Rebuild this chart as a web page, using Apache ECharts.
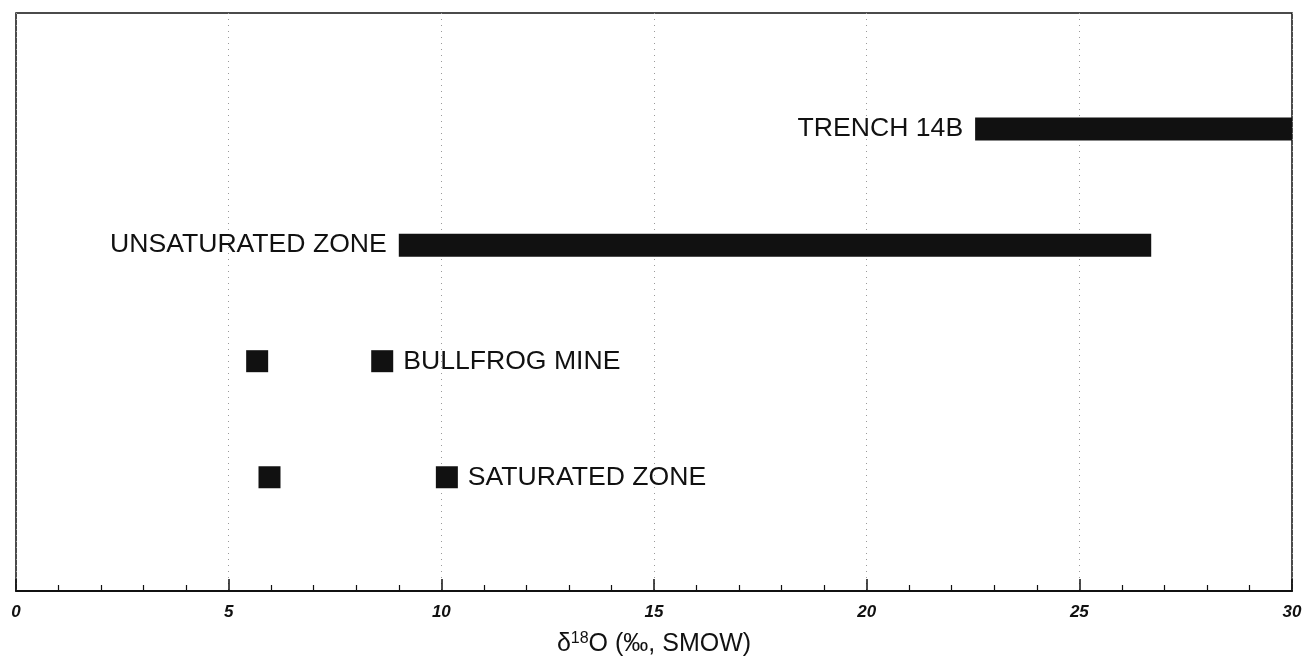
<!DOCTYPE html>
<html>
<head>
<meta charset="utf-8">
<script src="https://cdn.jsdelivr.net/npm/echarts@6/dist/echarts.min.js"></script>
<style>
html,body{margin:0;padding:0;background:#fff;}
#chart{width:1305px;height:664px;}
</style>
</head>
<body>
<div id="chart"></div>
<script>
// Range bars (delta 18O, per mil SMOW)
const rangeNames = ['TRENCH 14B', 'UNSATURATED ZONE'];
const rangeLevel = [4, 3];
const rangeLow = [22.55, 9.0];
const rangeHigh = [30.0, 26.69];

// Individual samples
const pointNames = ['BULLFROG MINE', 'SATURATED ZONE'];
const pointLevel = [2, 1];
const pointFirst = [5.67, 5.96];
const pointSecond = [8.61, 10.13];

// Axis
const xMin = 0, xMax = 30, xStep = 5;
const xTitle = 'δ{sup|18}O (‰, SMOW)';

const FONT = '"Liberation Sans", Arial, Helvetica, sans-serif';
const INK = '#111';
const LABEL_SIZE = 26.6;

const rangeData = rangeNames.map((n, i) => [rangeLow[i], rangeHigh[i], rangeLevel[i], n]);
const pointData = [];
pointNames.forEach((n, i) => {
  pointData.push({ value: [pointFirst[i], pointLevel[i]], label: { show: false } });
  pointData.push({ value: [pointSecond[i], pointLevel[i]], name: n,
    label: { show: true, position: 'right', distance: 10, formatter: n } });
});
const rangeLabelData = rangeNames.map((n, i) => ({ value: [rangeLow[i], rangeLevel[i]], name: n }));

const chart = echarts.init(document.getElementById('chart'), null, { renderer: 'canvas' });
chart.setOption({
  backgroundColor: '#fff',
  animation: false,
  grid: { left: 16, right: 13, top: 13, bottom: 73, show: true, borderColor: INK, borderWidth: 1.5 },
  xAxis: {
    type: 'value', min: xMin, max: xMax, interval: xStep,
    name: xTitle, nameLocation: 'middle', nameGap: 40,
    nameTextStyle: { fontFamily: FONT, fontSize: 25, color: INK,
      rich: { sup: { fontFamily: FONT, fontSize: 16, color: INK, verticalAlign: 'top', padding: [0, 0, 10, 0] } } },
    axisLine: { show: true, lineStyle: { color: INK, width: 2 } },
    axisTick: { show: true, inside: true, length: 12, lineStyle: { color: INK, width: 1.5 } },
    minorTick: { show: true, splitNumber: 5, length: 6, lineStyle: { color: INK, width: 1.2 } },
    axisLabel: { margin: 13, fontFamily: FONT, fontSize: 17, fontStyle: 'italic', fontWeight: 'bold', color: INK },
    splitLine: { show: true, lineStyle: { color: '#9a9a9a', width: 1, type: [1, 5] } },
    minorSplitLine: { show: false }
  },
  yAxis: {
    type: 'value', min: 0.02, max: 5,
    show: false, splitLine: { show: false }
  },
  series: [
    {
      type: 'custom',
      data: rangeData,
      encode: { x: [0, 1], y: 2 },
      renderItem: function (params, api) {
        const s = api.coord([api.value(0), api.value(2)]);
        const e = api.coord([api.value(1), api.value(2)]);
        const h = 23;
        return { type: 'rect', shape: { x: s[0], y: s[1] - h / 2, width: e[0] - s[0], height: h },
                 style: { fill: INK } };
      },
      z: 3
    },
    {
      type: 'scatter',
      data: rangeLabelData,
      symbolSize: 0,
      itemStyle: { opacity: 1, color: INK },
      label: { show: true, position: 'left', distance: 12, formatter: p => p.name,
               fontFamily: FONT, fontSize: LABEL_SIZE, color: INK, opacity: 1 },
      z: 4
    },
    {
      type: 'scatter',
      data: pointData,
      symbol: 'rect',
      symbolSize: 22,
      itemStyle: { color: INK, opacity: 1 },
      label: { fontFamily: FONT, fontSize: LABEL_SIZE, color: INK },
      z: 4
    }
  ]
});
</script>
</body>
</html>
